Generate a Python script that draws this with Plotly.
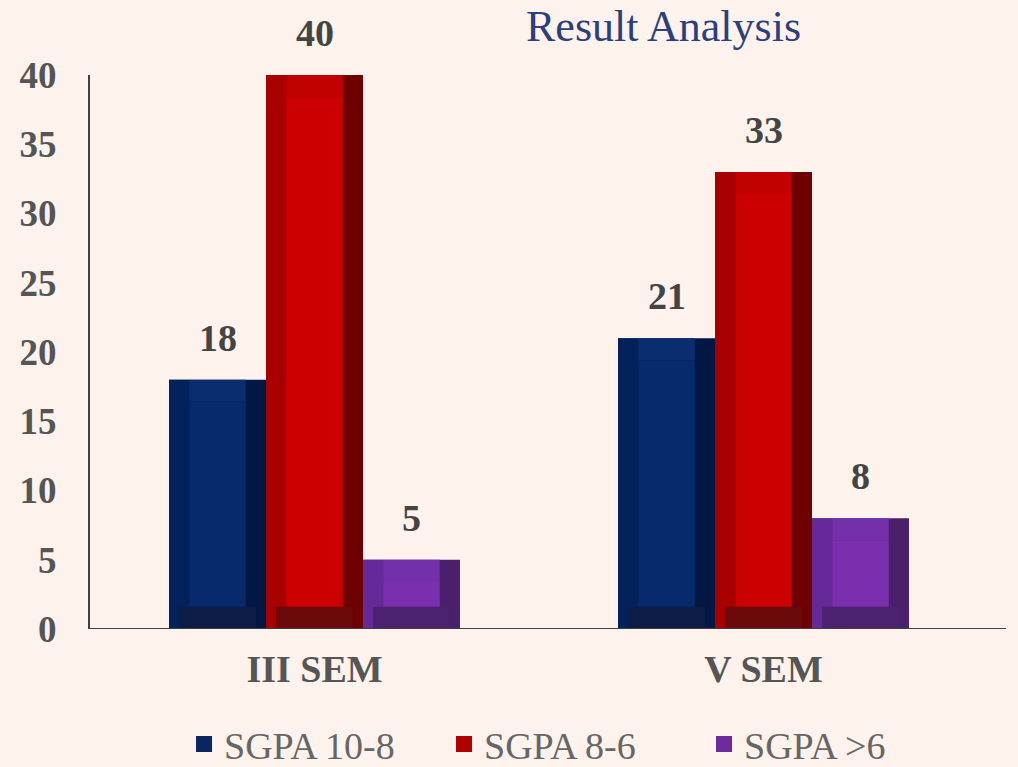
import plotly.graph_objects as go

categories = ["III SEM", "V SEM"]
series_names = ["SGPA 10-8", "SGPA 8-6", "SGPA >6"]
sgpa_10_8 = [18, 21]
sgpa_8_6 = [40, 33]
sgpa_gt6 = [5, 8]
y_ticks = [0, 5, 10, 15, 20, 25, 30, 35, 40]

series_values = [sgpa_10_8, sgpa_8_6, sgpa_gt6]
palettes = [
    dict(face="#062a6c", left="#03225c", right="#011845", top="#0a2d70", bottom="#0e1d45", legend="#0a2560"),
    dict(face="#cc0000", left="#a80000", right="#6e0000", top="#c20000", bottom="#6a0a0a", legend="#b00000"),
    dict(face="#7a30ae", left="#66299a", right="#4a1f6c", top="#7430a8", bottom="#4b2270", legend="#6a2c9c"),
]

W = 0.216      # bar width in category units
SW = 0.045     # side bevel width
BEV = 1.6      # top/bottom bevel height in data units
SERIF = "Liberation Serif"

fig = go.Figure()
for i, (name, vals, pal) in enumerate(zip(series_names, series_values, palettes)):
    c = (i - 1) * W
    left_edge = c - W / 2
    common = dict(x=categories, legendgroup=name, hoverinfo="skip", marker_line_width=0, showlegend=False)
    fig.add_trace(go.Bar(y=vals, width=W, offset=left_edge, marker_color=pal["right"], **common))
    fig.add_trace(go.Bar(y=vals, width=SW, offset=left_edge, marker_color=pal["left"], **common))
    fig.add_trace(go.Bar(y=[min(BEV, v) for v in vals], width=W - SW, offset=left_edge + SW / 2,
                         marker_color=pal["bottom"], **common))
    fig.add_trace(go.Bar(y=[BEV for v in vals], base=[v - BEV for v in vals], width=W - 2 * SW,
                         offset=left_edge + SW, marker_color=pal["top"], **common))
    fig.add_trace(go.Bar(y=[v - 2 * BEV for v in vals], base=[BEV for v in vals], width=W - 2 * SW,
                         offset=left_edge + SW, marker_color=pal["face"], **common))
    # legend entry
    fig.add_trace(go.Scatter(x=[None], y=[None], mode="markers", name=name, legendgroup=name,
                             marker=dict(symbol="square", size=20, color=pal["legend"]),
                             showlegend=True))
    for j, v in enumerate(vals):
        fig.add_annotation(x=j + c, y=v, xref="x", yref="y", text=f"<b>{v}</b>", showarrow=False,
                           yshift=42, font=dict(family=SERIF, size=38, color="#444444"))

fig.add_annotation(text="Result Analysis", xref="paper", yref="paper", x=0.639, y=1.135,
                   xanchor="center", yanchor="top", showarrow=False,
                   font=dict(family=SERIF, size=44, color="#2b3e7e"))

fig.add_shape(type="line", xref="paper", yref="y", x0=0, x1=1.02, y0=0, y1=0,
              line=dict(color="#404040", width=2))

fig.update_layout(
    width=1018, height=767,
    barmode="overlay",
    paper_bgcolor="#fdf3ec", plot_bgcolor="#fdf3ec",
    margin=dict(l=90, r=30, t=75, b=138, autoexpand=False),
    xaxis=dict(showline=False, showgrid=False, zeroline=False, ticks="",
               tickfont=dict(family=SERIF, size=38, color="#555555"),
               tickvals=categories, ticktext=[f"<b>{c}</b>" for c in categories],
               ticklabelstandoff=14, automargin=False),
    yaxis=dict(range=[0, 40], tickvals=y_ticks, ticktext=[f"<b>{t}</b>" for t in y_ticks],
               showgrid=False, zeroline=False,
               showline=True, linecolor="#404040", linewidth=2, ticks="",
               tickfont=dict(family=SERIF, size=37, color="#555555"),
               ticklabelstandoff=24, automargin=False),
    legend=dict(orientation="h", x=0.539, xanchor="center", y=-0.208, yanchor="middle",
                font=dict(family=SERIF, size=38, color="#666666"),
                entrywidth=215, entrywidthmode="pixels",
                bgcolor="rgba(0,0,0,0)", itemclick=False, itemsizing="trace"),
    showlegend=True,
)

fig.write_html("out.html", config={"displayModeBar": False})
with open("out.html", "r", encoding="utf-8") as f:
    html = f.read()
html = html.replace("<head>", "<head><style>html,body{margin:0;padding:0;background:#fdf3ec;}</style>", 1)
with open("out.html", "w", encoding="utf-8") as f:
    f.write(html)
